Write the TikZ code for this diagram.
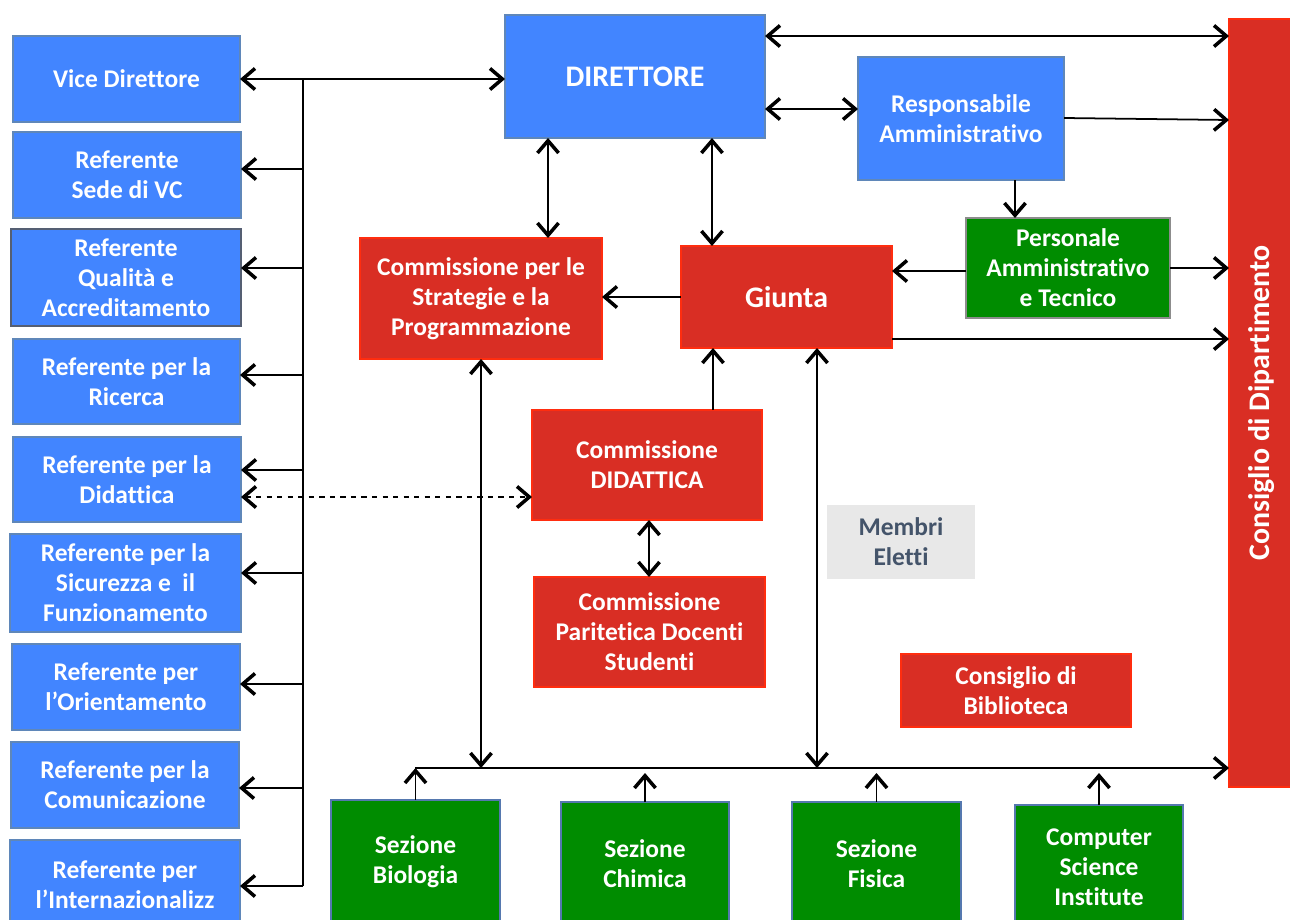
\documentclass[tikz,border=0pt]{standalone}
\usepackage{fontspec}
\setmainfont{Carlito}[Ligatures={NoCommon}]
\usetikzlibrary{arrows.meta,calc}
\definecolor{bfill}{RGB}{66,133,255}
\definecolor{bline}{RGB}{95,135,185}
\definecolor{rfill}{RGB}{217,46,36}
\definecolor{rline}{RGB}{255,45,15}
\definecolor{gfill}{RGB}{0,140,0}
\definecolor{gline}{RGB}{85,120,175}
\definecolor{pline}{RGB}{140,140,140}
\definecolor{mfill}{RGB}{232,232,232}
\definecolor{mtext}{RGB}{68,84,106}
\definecolor{qline}{RGB}{85,95,115}
\newcommand{\bx}[7]{\node[#1, minimum width={(#5-#3)*0.02cm}, minimum height={(#6-#4)*0.02cm}] (#2) at ({(#3+#5)/2},{(#4+#6)/2}) {#7};}
\begin{document}
\begin{tikzpicture}[x=0.02cm,y=-0.02cm,
  base/.style={draw, line width=0.8pt, inner sep=1pt, outer sep=0pt, align=center, text=white, font=\bfseries\fontsize{14.5}{17}\selectfont},
  bluebox/.style={base, fill=bfill, draw=bline},
  redbox/.style={base, fill=rfill, draw=rline},
  greenbox/.style={base, fill=gfill, draw=gline},
  persbox/.style={base, fill=gfill, draw=pline, line width=1.2pt},
  qualbox/.style={base, fill=bfill, draw=qline, line width=1.2pt},
  membox/.style={base, draw=none, fill=mfill, text=mtext},
  big/.style={font=\bfseries\fontsize{17}{20}\selectfont},
  conn/.style={line width=1pt, black},
  tip/.tip={Straight Barb[length=7pt,width=12pt,line width=2pt]},
  arr/.style={conn, -tip},
  darr/.style={conn, tip-tip},
]
\useasboundingbox (0,0) rectangle (1290,919);
\clip (0,0) rectangle (1290,919);
% left column
\bx{bluebox}{vice}{13}{36}{240}{122}{Vice Direttore}
\bx{bluebox}{sede}{13}{132}{241}{218}{Referente\\Sede di VC}
\bx{qualbox}{qual}{11}{229}{241}{326}{Referente\\Qualità e\\Accreditamento}
\bx{bluebox}{ric}{13}{339}{240}{424}{Referente per la\\Ricerca}
\bx{bluebox}{refdid}{13}{437}{241}{522}{Referente per la\\Didattica}
\bx{bluebox}{sic}{10}{534}{241}{632}{Referente per la\\Sicurezza e\ \ il\\Funzionamento}
\bx{bluebox}{ori}{12}{644}{240}{730}{Referente per\\l’Orientamento}
\bx{bluebox}{com}{11}{742}{239}{828}{Referente per la\\Comunicazione}
\bx{bluebox}{int}{10}{840}{240}{930}{Referente per\\l’Internazionalizz}
% centre
\bx{bluebox,big}{dir}{505}{15}{765}{138}{DIRETTORE}
\bx{bluebox}{resp}{858}{57}{1064}{180}{Responsabile\\Amministrativo}
\bx{persbox}{pers}{966}{218}{1170}{318}{Personale\\Amministrativo\\e Tecnico}
\bx{redbox,big}{giunta}{681}{246}{892}{348}{Giunta}
\bx{redbox}{strat}{360}{238}{602}{359}{Commissione per le\\Strategie e la\\Programmazione}
\bx{redbox}{comdid}{532}{410}{762}{520}{Commissione\\DIDATTICA}
\bx{redbox}{parit}{534}{577}{765}{687}{Commissione\\Paritetica Docenti\\Studenti}
\bx{membox}{membri}{827}{505}{975}{579}{Membri\\Eletti}
\bx{redbox}{bibl}{901}{654}{1131}{727}{Consiglio di\\Biblioteca}
\bx{redbox}{cons}{1229}{19}{1295}{787}{}
\node[text=white, font=\bfseries\fontsize{17}{20}\selectfont, rotate=90] (constext) at (cons.center) {Consiglio di Dipartimento};
% sezioni
\bx{greenbox}{sbio}{331}{800}{500}{924}{Sezione\\Biologia}
\bx{greenbox}{schim}{561}{802}{729}{926}{Sezione\\Chimica}
\bx{greenbox}{sfis}{792}{802}{961}{926}{Sezione\\Fisica}
\bx{greenbox}{csi}{1015}{805}{1183}{929}{Computer\\Science\\Institute}
% left bus
\coordinate (bustop) at (303,79);
\coordinate (busbot) at (303,886);
\draw[conn] (bustop) -- (busbot);
\draw[darr] (vice.east) -- (vice.east -| dir.west);
\draw[arr] ([yshift=0.12cm]sede.east -| bustop) -- ([yshift=0.12cm]sede.east);
\draw[arr] ([yshift=0.19cm]qual.east -| bustop) -- ([yshift=0.19cm]qual.east);
\draw[arr] ([yshift=0.13cm]ric.east -| bustop) -- ([yshift=0.13cm]ric.east);
\draw[arr] ([yshift=0.19cm]refdid.east -| bustop) -- ([yshift=0.19cm]refdid.east);
\draw[arr] ([yshift=0.2cm]sic.east -| bustop) -- ([yshift=0.2cm]sic.east);
\draw[arr] ([yshift=0.06cm]ori.east -| bustop) -- ([yshift=0.06cm]ori.east);
\draw[arr] ([yshift=-0.06cm]com.east -| bustop) -- ([yshift=-0.06cm]com.east);
\draw[arr] (busbot) -- (busbot -| int.east);
\draw[darr, dashed] ([yshift=-0.35cm]refdid.east) -- ([yshift=-0.35cm]refdid.east -| comdid.west);
% top right
\draw[darr] ([yshift=0.81cm]dir.east) -- ([yshift=0.81cm]dir.east -| cons.west);
\draw[darr] ([yshift=-0.65cm]dir.east) -- ([yshift=-0.65cm]dir.east -| resp.west);
\draw[arr] ([yshift=0.01cm]resp.east) -- ([yshift=-0.03cm]resp.east -| cons.west);
\draw[arr] ([xshift=1.08cm]resp.south) -- ([xshift=1.08cm]resp.south |- pers.north);
\draw[arr] ([yshift=-0.06cm]pers.west) -- ([yshift=-0.06cm]pers.west -| giunta.east);
\draw[arr] (pers.east) -- (pers.east -| cons.west);
\draw[arr] ([yshift=-0.84cm]giunta.east) -- ([yshift=-0.84cm]giunta.east -| cons.west);
\draw[arr] (giunta.west) -- (giunta.west -| strat.east);
\draw[darr] ([xshift=-1.74cm]dir.south) -- ([xshift=-1.74cm]dir.south |- strat.north);
\draw[darr] ([xshift=1.54cm]dir.south) -- ([xshift=1.54cm]dir.south |- giunta.north);
\draw[arr] ([xshift=1.32cm]comdid.north) -- ([xshift=1.32cm]comdid.north |- giunta.south);
\draw[darr] ([xshift=0.04cm]comdid.south) -- ([xshift=0.04cm]comdid.south |- parit.north);
% bottom bus
\coordinate (busL) at (415,768);
\draw[arr] (busL) -- (busL -| cons.west);
\draw[darr] (strat.south) -- (strat.south |- busL);
\draw[darr] ([xshift=0.61cm]giunta.south) -- ([xshift=0.61cm]giunta.south |- busL);
\draw[arr] (sbio.north) -- (sbio.north |- busL);
\draw[arr] (schim.north) -- ([yshift=-0.1cm]schim.north |- busL);
\draw[arr] (sfis.north) -- ([yshift=-0.1cm]sfis.north |- busL);
\draw[arr] (csi.north) -- ([yshift=-0.1cm]csi.north |- busL);
\end{tikzpicture}
\end{document}
